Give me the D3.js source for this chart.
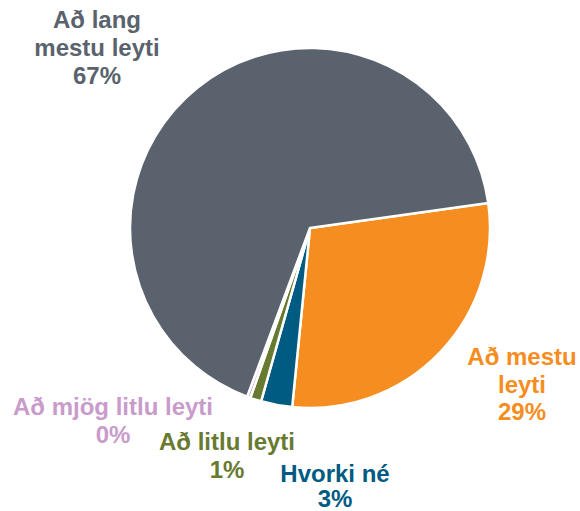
<!DOCTYPE html>
<html>
<head>
<meta charset="utf-8">
<style>
  body { margin: 0; background: #fff; }
  text { font-family: "Liberation Sans", Arial, sans-serif; font-weight: bold; font-size: 24px; }
</style>
</head>
<body>
<div id="chart"></div>
<script src="https://d3js.org/d3.v7.min.js"></script>
<script>
'use strict';

var width = 580,
    height = 511;

// slices, clockwise from the orange one
var categories = ['Að mestu leyti', 'Hvorki né', 'Að litlu leyti', 'Að mjög litlu leyti', 'Að lang mestu leyti'];
var values = [28.8, 2.8, 1.0, 0.3, 67.1];
var shown = ['29%', '3%', '1%', '0%', '67%'];
var colors = ['#f58d21', '#005b82', '#687a2f', '#c99bcb', '#5a636d'];

// label lines
var labelLines = [
  ['Að mestu', 'leyti'],
  ['Hvorki né'],
  ['Að litlu leyti'],
  ['Að mjög litlu leyti'],
  ['Að lang', 'mestu leyti']
];

// label placement: centre x, first baseline, line step
var labelPos = [[522, 365, 27.5], [335, 482, 25], [227, 450, 27.5], [113, 415, 27.5], [97, 28, 28]];

var cx = 310, cy = 228, radius = 180;

var svg = d3.select('#chart').append('svg')
    .attr('width', width)
    .attr('height', height);

var pie = d3.pie().sort(null).value(function(d) { return d; })
    .startAngle(82 * Math.PI / 180)
    .endAngle(82 * Math.PI / 180 + 2 * Math.PI);

var arc = d3.arc().innerRadius(0).outerRadius(radius);

var g = svg.append('g').attr('transform', 'translate(' + cx + ',' + cy + ')');

g.selectAll('path')
  .data(pie(values))
  .enter().append('path')
    .attr('d', arc)
    .attr('fill', function(d, i) { return colors[i]; })
    .attr('stroke', '#fff')
    .attr('stroke-width', 2.5)
    .attr('stroke-linejoin', 'round');

var lbl = svg.selectAll('text.lbl')
  .data(categories)
  .enter().append('text')
    .attr('class', 'lbl')
    .attr('text-anchor', 'middle')
    .attr('fill', function(d, i) { return colors[i]; });

lbl.each(function(d, i) {
  var t = d3.select(this);
  var p = labelPos[i];
  var lines = labelLines[i].concat([shown[i]]);
  lines.forEach(function(s, k) {
    t.append('tspan')
      .attr('x', p[0])
      .attr('y', p[1] + k * p[2])
      .text(s);
  });
});
</script>
</body>
</html>
